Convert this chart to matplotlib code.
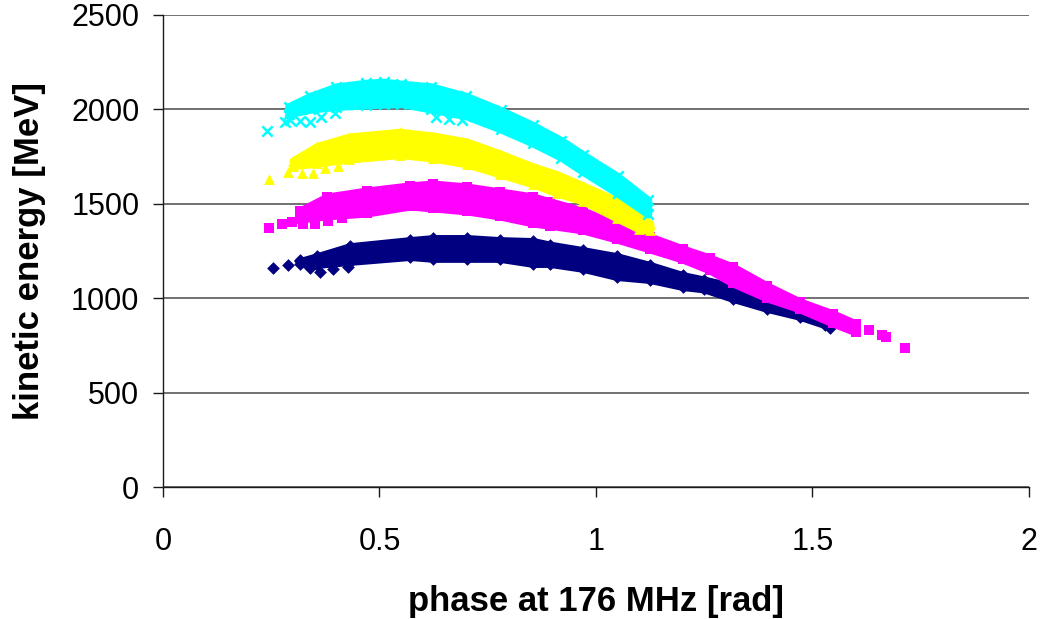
import matplotlib
matplotlib.use("Agg")
import matplotlib.pyplot as plt

plt.rcParams["font.family"] = ["Liberation Sans", "DejaVu Sans"]

# ---- data (phase in rad, kinetic energy in MeV) ----
# each band: phase columns with upper / lower marker centres, plus stray points
navy_x = [0.316, 0.356, 0.432, 0.57, 0.624, 0.702, 0.778, 0.855, 0.894, 0.97,
          1.048, 1.125, 1.20, 1.25, 1.316, 1.395, 1.471, 1.53]
navy_hi = [1195, 1221, 1274, 1306, 1317, 1317, 1306, 1301, 1282, 1253,
           1221, 1174, 1121, 1097, 1062, 1010, 935, 882]
navy_lo = [1183, 1178, 1194, 1220, 1210, 1210, 1210, 1183, 1183, 1157,
           1114, 1098, 1061, 1048, 998, 945, 903, 858]
navy_px = [0.254, 0.289, 0.316, 0.34, 0.363, 0.393, 0.427, 1.54]
navy_pe = [1160, 1176, 1202, 1160, 1139, 1155, 1165, 842]

mag_x = [0.316, 0.379, 0.471, 0.57, 0.624, 0.702, 0.778, 0.855, 0.894, 0.97,
         1.048, 1.125, 1.20, 1.263, 1.316, 1.395, 1.471, 1.547, 1.60]
mag_hi = [1463, 1537, 1569, 1596, 1606, 1590, 1564, 1537, 1511, 1463,
          1394, 1325, 1262, 1213, 1166, 1066, 981, 918, 865]
mag_lo = [1418, 1435, 1450, 1487, 1477, 1461, 1434, 1397, 1385, 1360,
          1312, 1259, 1206, 1148, 1079, 1000, 942, 867, 820]
mag_px = [0.245, 0.275, 0.298, 0.323, 0.351, 0.381, 0.413, 1.63, 1.66, 1.67, 1.714]
mag_pe = [1372, 1393, 1404, 1393, 1393, 1409, 1425, 830, 805, 795, 735]

yel_x = [0.30, 0.356, 0.43, 0.547, 0.624, 0.702, 0.778, 0.855, 0.91, 0.97,
         1.048, 1.10, 1.125]
yel_hi = [1728, 1805, 1855, 1880, 1860, 1828, 1765, 1696, 1655, 1596,
          1516, 1440, 1395]
yel_lo = [1700, 1715, 1736, 1760, 1741, 1710, 1657, 1604, 1556, 1514,
          1424, 1365, 1360]
yel_px = [0.245, 0.289, 0.321, 0.346, 0.374, 0.404]
yel_pe = [1631, 1668, 1663, 1663, 1690, 1700]

cyan_x = [0.29, 0.34, 0.40, 0.47, 0.51, 0.55, 0.62, 0.70, 0.78, 0.855,
          0.92, 0.97, 1.05, 1.12]
cyan_hi = [2015, 2070, 2120, 2140, 2145, 2135, 2120, 2070, 1995, 1915,
           1835, 1760, 1645, 1520]
cyan_lo = [1975, 2000, 2015, 2022, 2027, 2030, 2000, 1965, 1895, 1820,
           1745, 1670, 1555, 1445]
cyan_px = [0.241, 0.282, 0.293, 0.316, 0.34, 0.365, 0.397, 0.63, 0.66, 0.69]
cyan_pe = [1887, 1933, 1944, 1938, 1933, 1960, 1981, 1960, 1950, 1944]

x_ticks = [0, 0.5, 1, 1.5, 2]
x_tick_labels = ["0", "0.5", "1", "1.5", "2"]
y_ticks = [0, 500, 1000, 1500, 2000, 2500]

series = [
    (navy_x, navy_hi, navy_lo, navy_px, navy_pe, "#000080", "D", 42),
    (mag_x, mag_hi, mag_lo, mag_px, mag_pe, "#FF00FF", "s", 55),
    (yel_x, yel_hi, yel_lo, yel_px, yel_pe, "#FFFF00", "^", 60),
    (cyan_x, cyan_hi, cyan_lo, cyan_px, cyan_pe, "#00FFFF", "x", 55),
]

fig = plt.figure(figsize=(10.42, 6.19), dpi=100)
ax = fig.add_axes([0.1564, 0.2132, 0.9875 - 0.1564, 0.9758 - 0.2132])

for i, (xs, hi, lo, px, pe, col, mk, size) in enumerate(series):
    z = 3 + i
    ax.fill_between(xs, lo, hi, facecolor=col, edgecolor=col,
                    linewidth=5.5, joinstyle="round", zorder=z)
    lw = 1.8 if mk == "x" else 0
    ax.scatter(xs + xs + px, hi + lo + pe, marker=mk, s=size, c=col,
               linewidths=lw, zorder=z)

ax.set_xlim(0, 2)
ax.set_ylim(0, 2500)
ax.set_xticks(x_ticks)
ax.set_xticklabels(x_tick_labels)
ax.set_yticks(y_ticks)

ax.grid(axis="y", color="0.35", linewidth=1.2)
ax.set_axisbelow(True)
for side in ("top", "right"):
    ax.spines[side].set_visible(False)
for side in ("left", "bottom"):
    ax.spines[side].set_linewidth(1.0)
    ax.spines[side].set_color("0.1")

ax.tick_params(axis="both", direction="out", length=7, width=1,
               color="0.1", labelsize=22)
ax.tick_params(axis="x", pad=22)
ax.tick_params(axis="y", pad=10)

ax.set_xlabel("phase at 176 MHz [rad]", fontsize=25, fontweight="bold",
              labelpad=20)
ax.set_ylabel("kinetic energy [MeV]", fontsize=25, fontweight="bold",
              labelpad=18)

fig.savefig("out.png", dpi=100)
